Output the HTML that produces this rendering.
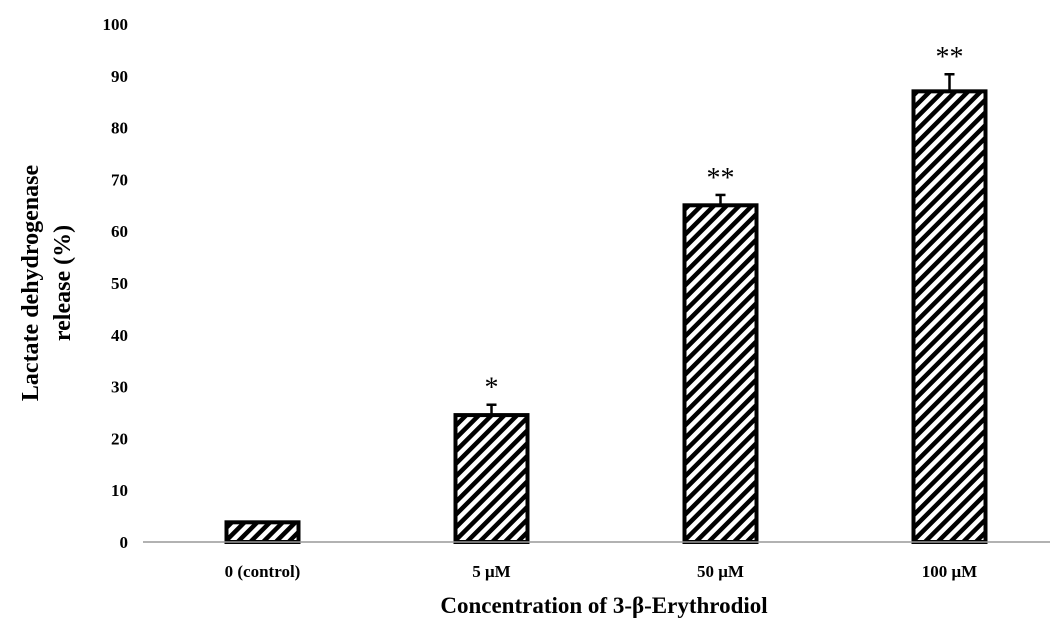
<!DOCTYPE html>
<html><head><meta charset="utf-8"><style>
body{margin:0;background:#fff}
svg{display:block;font-family:"Liberation Serif",serif;font-weight:bold}
</style></head><body>
<svg id="chart" width="1063" height="638">
<defs><pattern id="hatch" patternUnits="userSpaceOnUse" width="9" height="9" patternTransform="rotate(45)">
<rect width="9" height="9" fill="#fff"/><rect width="4.5" height="9" fill="#000"/></pattern></defs>
<g id="yticks"></g><g id="bars"></g><g id="xlabels"></g>
<line x1="143" y1="542" x2="1050" y2="542" stroke="#999" stroke-width="1.5"/>
<text x="0" y="0" transform="translate(46,283) rotate(-90)" text-anchor="middle" font-size="24"><tspan x="0" dy="-8">Lactate dehydrogenase</tspan><tspan x="0" dy="32">release (%)</tspan></text>
<text x="604" y="613" text-anchor="middle" font-size="23">Concentration  of 3-β-Erythrodiol</text>
</svg>
<script>
const categories=["0 (control)","5 μM","50 μM","100 μM"];
const values=[3.8,24.5,65,87];
const errors=[0,2,2,3.3];
const marks=["","*","**","**"];
const yTicks=[0,10,20,30,40,50,60,70,80,90,100];
const NS="http://www.w3.org/2000/svg";
const y0=542,y100=24,left=148,step=229,bw=72;
function y(v){return y0-(y0-y100)*v/100;}
function xc(i){return left+step*(i+0.5);}
function el(t,a,p){const e=document.createElementNS(NS,t);for(const k in a)e.setAttribute(k,a[k]);p.appendChild(e);return e;}
const yt=document.getElementById('yticks');
yTicks.forEach(t=>{const e=el('text',{x:128,y:y(t)+6,'text-anchor':'end','font-size':17},yt);e.textContent=t;

});
const bg=document.getElementById('bars');
values.forEach((v,i)=>{const cx=xc(i);
if(errors[i]>0){const l=el('line',{x1:cx,x2:cx,y1:y(v+errors[i]),y2:y(v),stroke:'#000','stroke-width':2.5},bg);


const c=el('line',{x1:cx-5,x2:cx+5,y1:y(v+errors[i]),y2:y(v+errors[i]),stroke:'#000','stroke-width':2.5},bg);

}
const r=el('rect',{x:cx-bw/2,y:y(v),width:bw,height:y0-y(v),fill:'url(#hatch)',stroke:'#000','stroke-width':4},bg);


if(marks[i]){const s=el('text',{x:cx,y:y(v+errors[i])-8,'text-anchor':'middle','font-size':28,'font-weight':'normal'},bg);s.textContent=marks[i];

}
const t=el('text',{x:cx,y:577,'text-anchor':'middle','font-size':17},document.getElementById('xlabels'));t.textContent=categories[i];


});
</script>
</body></html>
